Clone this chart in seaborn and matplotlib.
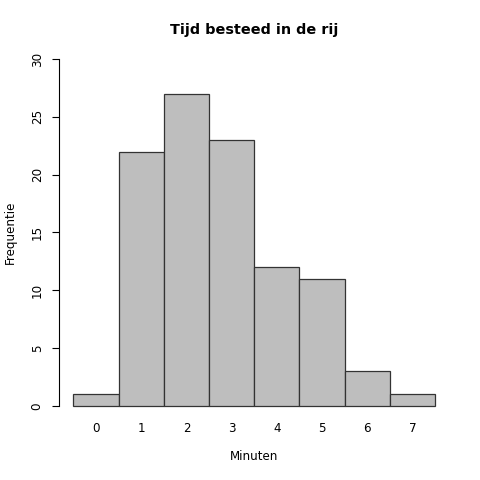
import matplotlib
matplotlib.use("Agg")
import matplotlib.pyplot as plt
import seaborn as sns
import pandas as pd

minutes = [0, 1, 2, 3, 4, 5, 6, 7]
counts = [1, 22, 27, 23, 12, 11, 3, 1]
yticks = [0, 5, 10, 15, 20, 25, 30]
title = "Tijd besteed in de rij"
xlabel = "Minuten"
ylabel = "Frequentie"

sns.set_style("white")
plt.rcParams['font.family'] = ['DejaVu Sans']
plt.rcParams.update({"text.color": "black", "axes.labelcolor": "black",
                     "xtick.color": "black", "ytick.color": "black"})

df = pd.DataFrame({"Minuten": minutes, "Frequentie": counts})

fig = plt.figure(figsize=(4.8, 4.8), dpi=100)
W, H = 480, 480
left, right, top, bottom = 59, 449.5, 45.1, 419.9
ax = fig.add_axes([left / W, 1 - bottom / H, (right - left) / W, (bottom - top) / H])

sns.histplot(data=df, x="Minuten", weights="Frequentie", discrete=True,
             color="#BEBEBE", edgecolor="#333333", linewidth=0.9, alpha=1, ax=ax)

ax.set_xlim(-0.82, 7.82)
ax.set_ylim(-1.2, 31.2)
ax.set_xticks(minutes)
ax.set_xticklabels([str(m) for m in minutes], fontsize=8.6)
ax.set_yticks(yticks)
ax.set_yticklabels([str(t) for t in yticks], fontsize=8.6, rotation=90, va="center")
ax.tick_params(axis="x", length=0, pad=1.5, colors="black")
ax.tick_params(axis="y", length=5, width=0.8, pad=6, color="black", labelcolor="black", left=True)

for s in ["top", "right", "bottom"]:
    ax.spines[s].set_visible(False)
ax.spines["left"].set_bounds(0, 30)
ax.spines["left"].set_color("black")
ax.spines["left"].set_linewidth(0.8)

ax.set_xlabel(xlabel, fontsize=8.6, va="center", color="black")
ax.set_ylabel(ylabel, fontsize=8.6, va="center", color="black")
ax.xaxis.set_label_coords(0.5, -(457 - bottom) / (bottom - top))
ax.yaxis.set_label_coords(-(left - 10) / (right - left), 0.5)

ax.text(0.5, 1 + 15 / (bottom - top), title, transform=ax.transAxes,
        ha="center", va="center", fontsize=10.4, fontweight="bold", color="black")

fig.savefig("out.png", dpi=100)
